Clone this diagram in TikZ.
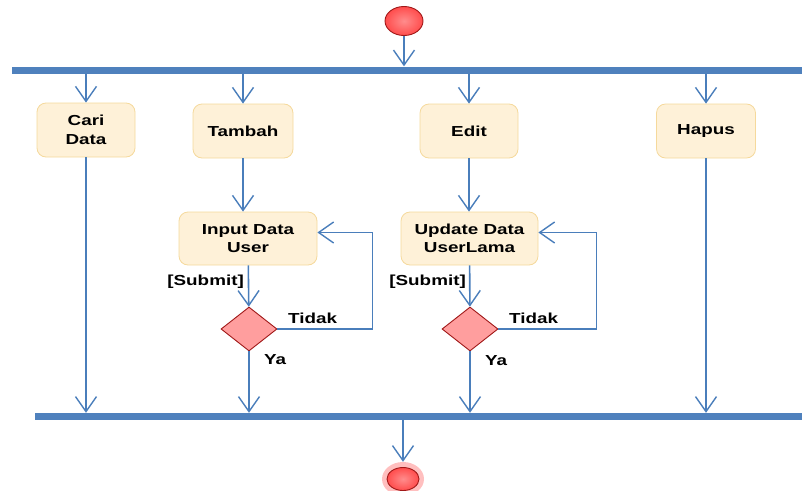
\documentclass[tikz,border=0pt]{standalone}
\usepackage{fontspec}
\newfontfamily\lf{Liberation Sans}[FakeStretch=1.3]
\usetikzlibrary{arrows.meta,shapes.geometric,positioning}
\definecolor{barblue}{HTML}{4F81BD}
\definecolor{lineblue}{HTML}{4A7EBB}
\definecolor{boxfill}{HTML}{FEF1D8}
\definecolor{boxdraw}{HTML}{F5D99C}
\definecolor{dfill}{HTML}{FF9E9E}
\definecolor{ddraw}{HTML}{A01818}
\begin{document}
\begin{tikzpicture}[x=1pt,y=-1pt,
  font=\lf\bfseries\fontsize{14.5}{18.5}\selectfont,
  act/.style={draw=boxdraw,fill=boxfill,rounded corners=9pt,line width=0.8pt,minimum height=54pt,align=center,inner sep=2pt},
  bar/.style={fill=barblue,draw=none,inner sep=0pt,minimum height=7pt},
  arr/.style={draw=lineblue,line width=1.6pt,-{Straight Barb[length=15pt,width=21pt,line width=1.4pt]}},
  dec/.style={diamond,draw=ddraw,fill=dfill,line width=0.9pt,minimum width=56pt,minimum height=44pt,aspect=1.27,inner sep=0pt},
  lbl/.style={inner sep=0pt}]
\useasboundingbox (0,0) rectangle (802,490);
% start
\node[ellipse,draw=ddraw,line width=0.9pt,inner color=red!45!white,outer color=red!70!white,minimum width=38pt,minimum height=29pt,inner sep=0pt] (start) at (404,21) {};
% bars
\node[bar,minimum width=790pt] (fork) at (407,70) {};
\node[bar,minimum width=767pt] (join) at (418.5,416.5) {};
% actions
\node[act,minimum width=98pt] (cari) at (86,130) {Cari\\Data};
\node[act,minimum width=100pt] (tambah) at (243,131) {Tambah};
\node[act,minimum width=98pt] (edit) at (469,131) {Edit};
\node[act,minimum width=99pt] (hapus) at (706,131) {Hapus};
\node[act,minimum width=138pt,minimum height=53pt] (input) at (248,238.5) {Input Data\\User};
\node[act,minimum width=137pt,minimum height=53pt] (update) at (469.5,238.5) {Update Data\\UserLama};
\node[dec] (d1) at (249,329) {};
\node[dec] (d2) at (470,329) {};
% end
\node[ellipse,fill=red!25!white,minimum width=42pt,minimum height=34pt,inner sep=0pt] (endhalo) at (403,479) {};
\node[ellipse,draw=ddraw,line width=0.9pt,inner color=red!45!white,outer color=red!70!white,minimum width=32pt,minimum height=23pt,inner sep=0pt] (end) at (403,479) {};
% connectors
\draw[arr] (start) -- (start|-fork.north);
\draw[arr] (fork.south-|cari) -- (cari);
\draw[arr] (fork.south-|tambah) -- (tambah);
\draw[arr] (fork.south-|edit) -- (edit);
\draw[arr] (fork.south-|hapus) -- (hapus);
\draw[arr] (tambah) -- (tambah|-input.north);
\draw[arr] (edit) -- (edit|-update.north);
\draw[arr] (cari) -- (cari|-join.north);
\draw[arr] (hapus) -- (hapus|-join.north);
\draw[arr] (input) -- (d1);
\draw[arr] (update) -- (d2);
\draw[arr] (d1) -- (d1|-join.north);
\draw[arr] (d2) -- (d2|-join.north);
\draw[arr] (d1.east) -- ++(95,0) |- ([yshift=6pt]input.east);
\draw[arr] (d2.east) -- ++(98,0) |- ([yshift=6pt]update.east);
\draw[arr] (join.south-|end) -- (endhalo.north);
% labels
\node[lbl,anchor=east] (s1) at (244,282) {[Submit]};
\node[lbl,anchor=east] (s2) at (466,282) {[Submit]};
\node[lbl,anchor=west] (t1) at (288,318) {Tidak};
\node[lbl,anchor=west] (t2) at (509,318) {Tidak};
\node[lbl,anchor=west] (y1) at (264,360) {Ya};
\node[lbl,anchor=west] (y2) at (485,361) {Ya};
\end{tikzpicture}
\end{document}
